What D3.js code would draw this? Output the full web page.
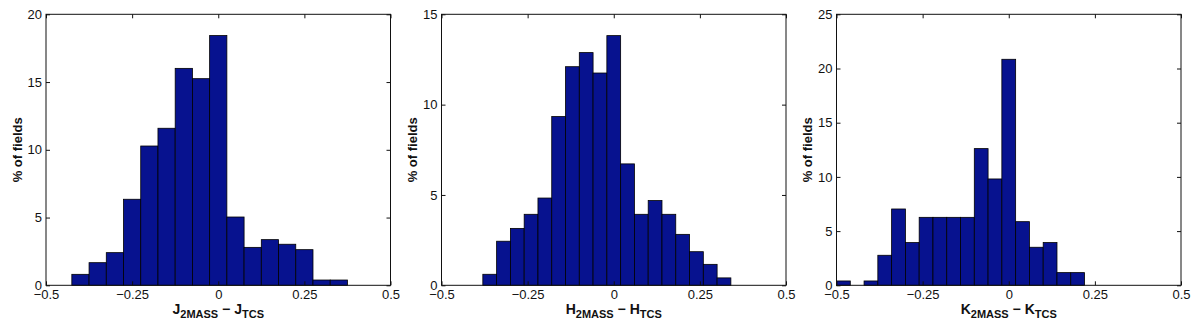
<!DOCTYPE html>
<html>
<head>
<meta charset="utf-8">
<style>
  body { margin: 0; background: #fff; }
  svg { display: block; font-family: "Liberation Sans", Arial, sans-serif; }
  .tick text { font-size: 13px; fill: #111; }
  .tick line { stroke: #111; }
</style>
</head>
<body>
<div id="chart"></div>
<script src="https://d3js.org/d3.v7.min.js"></script>
<script>
// bin centres and heights (% of fields)
var jCenters = [-0.40, -0.35, -0.30, -0.25, -0.20, -0.15, -0.10, -0.05, 0.00, 0.05, 0.10, 0.15, 0.20, 0.25, 0.30, 0.35];
var jPct     = [0.81, 1.67, 2.41, 6.35, 10.28, 11.59, 16.01, 15.25, 18.43, 5.04, 2.80, 3.37, 3.03, 2.63, 0.39, 0.39];

var hCenters = [-0.36, -0.32, -0.28, -0.24, -0.20, -0.16, -0.12, -0.08, -0.04, 0.00, 0.04, 0.08, 0.12, 0.16, 0.20, 0.24, 0.28, 0.32];
var hPct     = [0.61, 2.44, 3.15, 3.93, 4.83, 9.34, 12.10, 12.88, 11.75, 13.82, 6.72, 3.93, 4.69, 3.93, 2.82, 1.86, 1.16, 0.41];

var kCenters = [-0.48, -0.44, -0.40, -0.36, -0.32, -0.28, -0.24, -0.20, -0.16, -0.12, -0.08, -0.04, 0.00, 0.04, 0.08, 0.12, 0.16, 0.20];
var kPct     = [0.40, 0, 0.40, 2.77, 7.04, 3.94, 6.27, 6.27, 6.27, 6.27, 12.61, 9.81, 20.85, 5.87, 3.51, 3.94, 1.17, 1.17];

var xTicks = [-0.5, -0.25, 0, 0.25, 0.5];
var jYTicks = [0, 5, 10, 15, 20];
var hYTicks = [0, 5, 10, 15];
var kYTicks = [0, 5, 10, 15, 20, 25];

var panels = [
  { letter: "J", centers: jCenters, pct: jPct, binWidth: 0.05, yMax: 20, yTicks: jYTicks, left: 46 },
  { letter: "H", centers: hCenters, pct: hPct, binWidth: 0.04, yMax: 15, yTicks: hYTicks, left: 441.5 },
  { letter: "K", centers: kCenters, pct: kPct, binWidth: 0.04, yMax: 25, yTicks: kYTicks, left: 836.5 }
];

var W = 1200, H = 329;
var plotW = 344.5, plotTop = 14.3, plotBottom = 285.3;

var svg = d3.select("#chart").append("svg")
  .attr("width", W)
  .attr("height", H);

panels.forEach(function(p) {
  var x = d3.scaleLinear().domain([-0.5, 0.5]).range([p.left, p.left + plotW]);
  var y = d3.scaleLinear().domain([0, p.yMax]).range([plotBottom, plotTop]);

  var g = svg.append("g");

  // bars
  g.selectAll("rect.bar")
    .data(p.centers)
    .enter().append("rect")
    .attr("class", "bar")
    .attr("x", function(d) { return x(d - p.binWidth / 2); })
    .attr("width", function(d) { return x(d + p.binWidth / 2) - x(d - p.binWidth / 2); })
    .attr("y", function(d, i) { return y(p.pct[i]); })
    .attr("height", function(d, i) { return plotBottom - y(p.pct[i]); })
    .style("fill", "#07128f")
    .style("stroke", "#000")
    .style("stroke-width", 0.8);

  var fmt = d3.format("");

  // bottom axis with labels, ticks pointing in
  g.append("g")
    .attr("transform", "translate(0," + plotBottom + ")")
    .call(d3.axisBottom(x).tickValues(xTicks).tickFormat(fmt)
      .tickSizeInner(-4).tickSizeOuter(0).tickPadding(4))
    .call(function(a) { a.select(".domain").remove(); });

  // top ticks
  g.append("g")
    .attr("transform", "translate(0," + plotTop + ")")
    .call(d3.axisTop(x).tickValues(xTicks).tickFormat("")
      .tickSizeInner(-4).tickSizeOuter(0))
    .call(function(a) { a.select(".domain").remove(); });

  // left axis with labels
  g.append("g")
    .attr("transform", "translate(" + p.left + ",0)")
    .call(d3.axisLeft(y).tickValues(p.yTicks).tickFormat(fmt)
      .tickSizeInner(-4).tickSizeOuter(0).tickPadding(4))
    .call(function(a) { a.select(".domain").remove(); });

  // right ticks
  g.append("g")
    .attr("transform", "translate(" + (p.left + plotW) + ",0)")
    .call(d3.axisRight(y).tickValues(p.yTicks).tickFormat("")
      .tickSizeInner(-4).tickSizeOuter(0))
    .call(function(a) { a.select(".domain").remove(); });

  // box
  g.append("rect")
    .attr("x", p.left)
    .attr("y", plotTop)
    .attr("width", plotW)
    .attr("height", plotBottom - plotTop)
    .style("fill", "none")
    .style("stroke", "#111")
    .style("stroke-width", 1);

  // y label
  g.append("text")
    .attr("transform", "translate(" + (p.left - 24.5) + "," + ((plotTop + plotBottom) / 2) + ") rotate(-90)")
    .attr("text-anchor", "middle")
    .style("font-size", "13px")
    .style("font-weight", "bold")
    .style("fill", "#111")
    .text("% of fields");

  // x label with subscripts
  var xl = g.append("text")
    .attr("x", p.left + plotW / 2)
    .attr("y", 314)
    .attr("text-anchor", "middle")
    .style("font-size", "14px")
    .style("font-weight", "bold")
    .style("fill", "#111");
  xl.append("tspan").text(p.letter);
  xl.append("tspan").attr("dy", 4).style("font-size", "11px").text("2MASS");
  xl.append("tspan").attr("dy", -4).text(" \u2212 " + p.letter);
  xl.append("tspan").attr("dy", 4).style("font-size", "11px").text("TCS");
});
</script>
</body>
</html>
